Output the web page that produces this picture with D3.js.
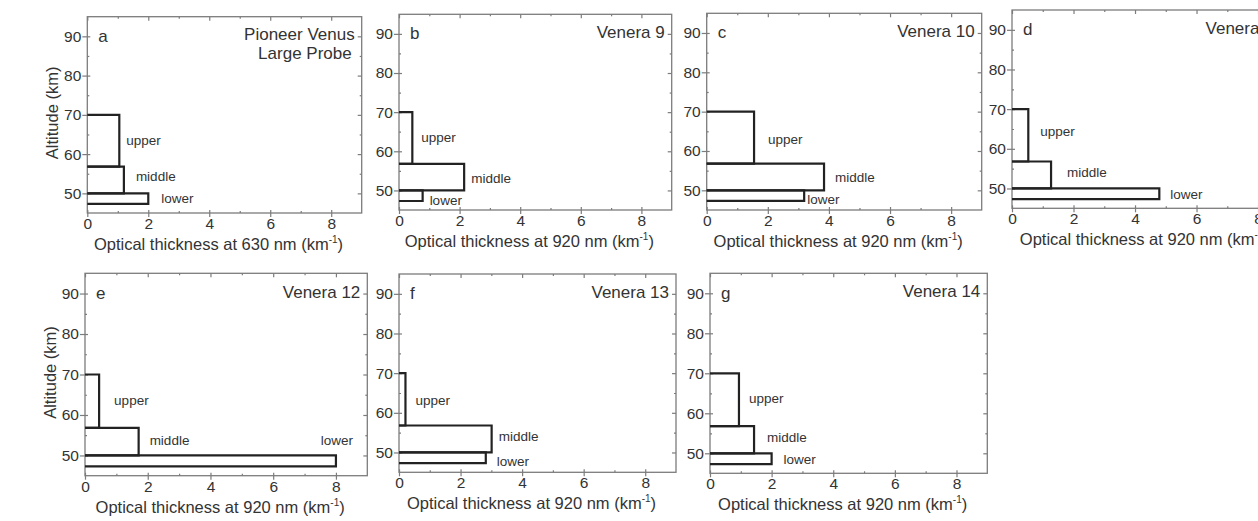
<!DOCTYPE html>
<html>
<head>
<meta charset="utf-8">
<script src="https://cdn.jsdelivr.net/npm/d3@7/dist/d3.min.js"></script>
<style>
  html, body { margin: 0; padding: 0; background: #fff; }
  svg { display: block; font-family: "Liberation Sans", Arial, sans-serif; }
</style>
</head>
<body>
<svg id="chart" width="1258" height="521"></svg>
<script>
// --- données ---
const panelLetters = ['a', 'b', 'c', 'd', 'e', 'f', 'g']
const probeNames = [['Pioneer Venus', 'Large Probe'], ['Venera 9'], ['Venera 10'], ['Venera 11'], ['Venera 12'], ['Venera 13'], ['Venera 14']]
const wavelengths = [630, 920, 920, 920, 920, 920, 920]

const layerNames = ['upper', 'middle', 'lower']
const layerTops = [70, 56.8, 50]       // km
const layerBottoms = [56.8, 50, 47.3]  // km

// épaisseur optique (km^-1) par couche, une valeur par sonde
const upperTau = [1.05, 0.44, 1.55, 0.53, 0.45, 0.21, 0.94]
const middleTau = [1.2, 2.15, 3.84, 1.27, 1.71, 3.01, 1.43]
const lowerTau = [2.0, 0.78, 3.19, 4.79, 8.0, 2.82, 2.0]

const xTicks = [0, 2, 4, 6, 8]
const xMinor = [1, 3, 5, 7]
const yTicks = [50, 60, 70, 80, 90]
const yMinor = [55, 65, 75, 85]

// --- mise en page (le scan n'est pas parfaitement aligné) ---
const boxes = [
  { x: 87.3, y: 16.7, w: 274.4, h: 196.3 },
  { x: 399, y: 14.3, w: 272.7, h: 195.7 },
  { x: 706.7, y: 13.3, w: 275, h: 196.7 },
  { x: 1012, y: 10, w: 276.8, h: 198.3 },
  { x: 85, y: 273.3, w: 282.3, h: 202.4 },
  { x: 399, y: 274, w: 277, h: 198.3 },
  { x: 710, y: 273.3, w: 277.3, h: 200 },
]
// décalage horizontal (px) et altitude de la ligne de base des étiquettes de couche
const labelDx = [[7, 12, 13], [9, 7, 7], [14, 11, 3], [12, 16, 11], [15, 11, 17], [10, 7, 11], [10, 13, 12]]
const labelAlt = [[62.4, 53.1, 47.6], [62.3, 52, 46.4], [61.7, 52.1, 46.6], [63.2, 52.8, 47.4], [62.4, 52.5, 52.5], [62.0, 52.9, 46.5], [62.5, 52.7, 47.2]]
// Venera 12 : "lower" est calé à droite, au-dessus de la barre
const labelEnd = [[0, 0, 0], [0, 0, 0], [0, 0, 0], [0, 0, 0], [0, 0, 1], [0, 0, 0], [0, 0, 0]]

const FRAME = '#7c7c7c'
const INK = '#222'
const TEXT = '#333'

const svg = d3.select('#chart')
svg.append('rect').attr('width', 1258).attr('height', 521).attr('fill', '#fff')

panelLetters.forEach((letter, i) => {
  const b = boxes[i]
  const x = d3.scaleLinear().domain([0, 9]).range([0, b.w])
  const y = d3.scaleLinear().domain([45, 95]).range([b.h, 0])
  const g = svg.append('g').attr('transform', `translate(${b.x},${b.y})`)

  // axes : ticks principaux + secondaires, sur les 4 côtés
  const styleAxis = (sel) => {
    sel.select('.domain').remove()
    sel.selectAll('line').attr('stroke', FRAME).attr('stroke-width', 1.2)
    sel.selectAll('text').attr('fill', TEXT).attr('font-size', 15.5)
  }

  const bottom = g.append('g').attr('transform', `translate(0,${b.h})`)
    .call(d3.axisBottom(x).tickValues(xTicks).tickSize(4).tickPadding(3).tickFormat(d3.format('d')))
  bottom.selectAll('.tick line').attr('y1', -3)
  styleAxis(bottom)
  bottom.selectAll('text').attr('dy', '0.72em').attr('y', 5)

  const bottomMinor = g.append('g').attr('transform', `translate(0,${b.h})`)
    .call(d3.axisBottom(x).tickValues(xMinor).tickSize(-2).tickFormat(''))
  styleAxis(bottomMinor)

  const top = g.append('g').call(d3.axisTop(x).tickValues(xTicks).tickSize(-4).tickFormat(''))
  styleAxis(top)
  const topMinor = g.append('g').call(d3.axisTop(x).tickValues(xMinor).tickSize(-2).tickFormat(''))
  styleAxis(topMinor)

  const left = g.append('g')
    .call(d3.axisLeft(y).tickValues(yTicks).tickSize(5).tickPadding(1).tickFormat(d3.format('d')))
  left.selectAll('.tick line').attr('x1', 3)
  styleAxis(left)

  const leftMinor = g.append('g').call(d3.axisLeft(y).tickValues(yMinor).tickSize(-2).tickFormat(''))
  styleAxis(leftMinor)

  const right = g.append('g').attr('transform', `translate(${b.w},0)`)
    .call(d3.axisRight(y).tickValues(yTicks).tickSize(-4).tickFormat(''))
  styleAxis(right)
  const rightMinor = g.append('g').attr('transform', `translate(${b.w},0)`)
    .call(d3.axisRight(y).tickValues(yMinor).tickSize(-2).tickFormat(''))
  styleAxis(rightMinor)

  // cadre
  g.append('rect')
    .attr('width', b.w).attr('height', b.h)
    .attr('fill', 'none').attr('stroke', FRAME).attr('stroke-width', 1.3)

  // couches nuageuses : rectangles ouverts côté axe
  const taus = [upperTau[i], middleTau[i], lowerTau[i]]
  layerNames.forEach((name, k) => {
    const path = d3.path()
    path.moveTo(x(0), y(layerTops[k]))
    path.lineTo(x(taus[k]), y(layerTops[k]))
    path.lineTo(x(taus[k]), y(layerBottoms[k]))
    path.lineTo(x(0), y(layerBottoms[k]))
    g.append('path')
      .attr('d', path.toString())
      .attr('fill', 'none')
      .attr('stroke', INK)
      .attr('stroke-width', 2.2)

    g.append('text')
      .attr('x', x(taus[k]) + labelDx[i][k])
      .attr('y', y(labelAlt[i][k]))
      .attr('text-anchor', labelEnd[i][k] ? 'end' : 'start')
      .attr('fill', TEXT)
      .attr('font-size', 13.5)
      .text(name)
  })

  // lettre du panneau
  g.append('text')
    .attr('x', 11).attr('y', y(90) + 5.5)
    .attr('fill', TEXT).attr('font-size', 17)
    .text(letter)

  // nom de la sonde
  probeNames[i].forEach((line, j) => {
    g.append('text')
      .attr('x', b.w - 7 + (j ? -3 : 0))
      .attr('y', y(90) + 4 + j * 18.5)
      .attr('text-anchor', 'end')
      .attr('fill', TEXT).attr('font-size', 17)
      .text(line)
  })

  // titre de l'axe x avec exposant
  const xt = g.append('text')
    .attr('x', b.w / 2 - 6).attr('y', b.h + 37)
    .attr('text-anchor', 'middle')
    .attr('fill', TEXT).attr('font-size', 16.5)
  xt.append('tspan').text(`Optical thickness at ${wavelengths[i]} nm (km`)
  xt.append('tspan').attr('font-size', 10).attr('dy', -7).text('-1')
  xt.append('tspan').attr('dy', 7).text(')')

  // titre de l'axe y, seulement en début de ligne
  if (i === 0 || i === 4) {
    g.append('text')
      .attr('transform', `translate(-29,${b.h / 2 - 2}) rotate(-90)`)
      .attr('text-anchor', 'middle')
      .attr('fill', TEXT).attr('font-size', 16.5)
      .text('Altitude (km)')
  }
})
</script>
</body>
</html>
